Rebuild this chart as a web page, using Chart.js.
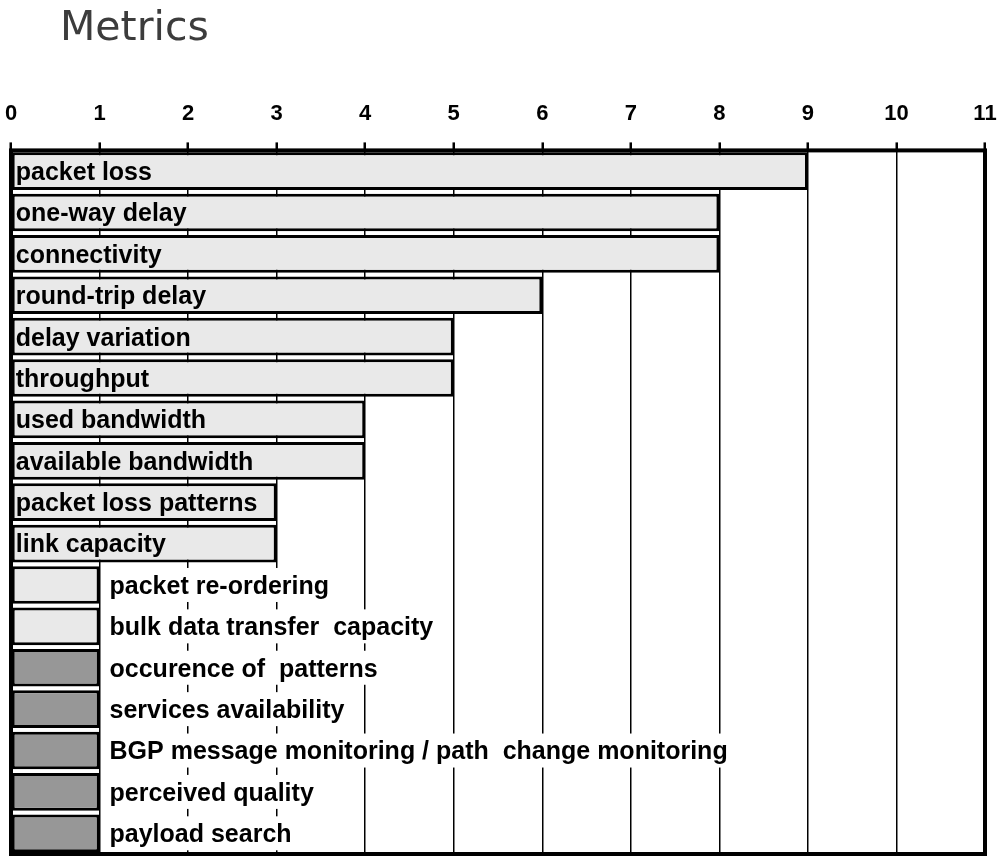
<!DOCTYPE html>
<html>
<head>
<meta charset="utf-8">
<title>Metrics</title>
<script src="https://cdn.jsdelivr.net/npm/chart.js@4.4.1/dist/chart.umd.min.js"></script>
<style>
  html, body { margin: 0; padding: 0; background: #fff; }
  #wrap { position: relative; width: 997px; height: 856px; }
  #title {
    position: absolute; left: 60px; top: 6px;
    font: 41px/41px "DejaVu Sans", sans-serif; color: #3c3c3c;
  }
</style>
</head>
<body>
<div id="wrap">
  <div id="title">Metrics</div>
  <canvas id="myChart"></canvas>
</div>
<script>
const categories = [
  'packet loss', 'one-way delay', 'connectivity', 'round-trip delay',
  'delay variation', 'throughput', 'used bandwidth', 'available bandwidth',
  'packet loss patterns', 'link capacity', 'packet re-ordering',
  'bulk data transfer  capacity', 'occurence of  patterns',
  'services availability', 'BGP message monitoring / path  change monitoring',
  'perceived quality', 'payload search'
];
const counts = [9, 8, 8, 6, 5, 5, 4, 4, 3, 3, 1, 1, 1, 1, 1, 1, 1];
// 0 = light bars, 1 = dark bars
const group = [0, 0, 0, 0, 0, 0, 0, 0, 0, 0, 0, 0, 1, 1, 1, 1, 1];
const xTicks = [0, 1, 2, 3, 4, 5, 6, 7, 8, 9, 10, 11];

const fills = ['#e9e9e9', '#979797'];
const labelFont = 'bold 25px "Liberation Sans", Arial, sans-serif';

// bar names: inside the bar if they fit, otherwise right of it on a white box
const barLabels = {
  id: 'barLabels',
  afterDatasetsDraw(chart) {
    const ctx = chart.ctx;
    const meta = chart.getDatasetMeta(0);
    ctx.save();
    ctx.font = labelFont;
    ctx.textBaseline = 'middle';
    meta.data.forEach((bar, i) => {
      const text = categories[i];
      const w = ctx.measureText(text).width;
      const y = bar.y + 2;
      if (w + 10 < bar.x - bar.base) {
        ctx.fillStyle = '#000';
        ctx.fillText(text, bar.base + 4, y);
      } else {
        const x = bar.x + 10;
        ctx.fillStyle = '#fff';
        ctx.fillRect(bar.x + 2, bar.y - 17, w + 12, 34);
        ctx.fillStyle = '#000';
        ctx.fillText(text, x, y);
      }
    });
    ctx.restore();
  }
};

// thick frame round the plot
const frame = {
  id: 'frame',
  afterDraw(chart) {
    const a = chart.chartArea;
    const ctx = chart.ctx;
    ctx.save();
    ctx.lineWidth = 4;
    ctx.strokeStyle = '#000';
    ctx.strokeRect(a.left, a.top, a.right - a.left, a.bottom - a.top);
    ctx.restore();
  }
};

const data = {
  labels: categories,
  datasets: [{
    data: counts,
    backgroundColor: group.map(g => fills[g]),
    borderColor: '#000',
    borderWidth: 3,
    borderSkipped: false,
    categoryPercentage: 1,
    barPercentage: 0.91
  }]
};

const config = {
  type: 'bar',
  data: data,
  options: {
    indexAxis: 'y',
    responsive: true,
    maintainAspectRatio: false,
    animation: false,
    layout: { padding: { left: 11, right: 12, top: 86, bottom: 2 } },
    plugins: {
      legend: { display: false },
      tooltip: { enabled: false }
    },
    scales: {
      x: {
        position: 'top',
        min: 0,
        max: 11,
        afterBuildTicks: s => { s.ticks = xTicks.map(v => ({ value: v })); },
        afterFit: s => { s.paddingLeft = 0; s.paddingRight = 0; },
        ticks: {
          color: '#000',
          padding: 15,
          font: { family: '"Liberation Sans", Arial, sans-serif', size: 22, weight: 'bold' }
        },
        grid: {
          color: '#000',
          lineWidth: 1.5,
          tickLength: 8,
          tickWidth: 2.5,
          tickColor: '#000'
        },
        border: { display: false }
      },
      y: { display: false }
    }
  },
  plugins: [barLabels, frame]
};

document.addEventListener('DOMContentLoaded', () => {
  const el = document.getElementById('myChart');
  new Chart(el.getContext('2d'), config);
});
</script>
</body>
</html>
